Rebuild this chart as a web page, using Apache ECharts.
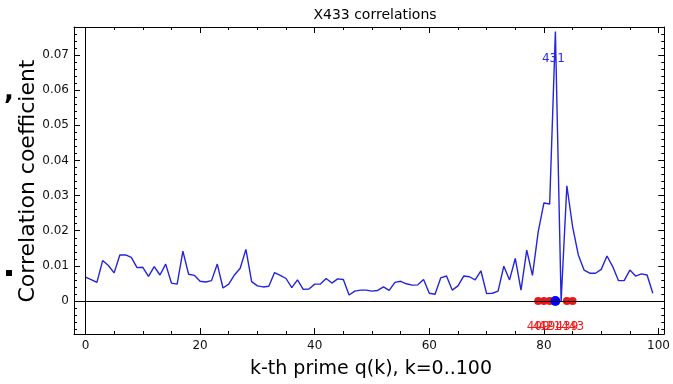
<!DOCTYPE html>
<html>
<head>
<meta charset="utf-8">
<script src="https://cdn.jsdelivr.net/npm/echarts@6/dist/echarts.min.js"></script>
<style>
  html, body { margin: 0; padding: 0; background: #fff; }
  #chart { width: 673px; height: 384px; }
</style>
</head>
<body>
<div id="chart"></div>
<script>
// correlation of X433 with the k-th prime, k = 0..99
const corr = [
  0.0068, 0.0061, 0.0053, 0.0115, 0.0101, 0.0080, 0.0131, 0.0131, 0.0124, 0.0095,
  0.0096, 0.0070, 0.0098, 0.0074, 0.0105, 0.0051, 0.0048, 0.0142, 0.0076, 0.0073,
  0.0056, 0.0054, 0.0058, 0.0105, 0.0037, 0.0048, 0.0074, 0.0093, 0.0147, 0.0055,
  0.0043, 0.0040, 0.0042, 0.0081, 0.0073, 0.0064, 0.0038, 0.0060, 0.0033, 0.0034,
  0.0048, 0.0048, 0.0064, 0.0051, 0.0063, 0.0061, 0.0017, 0.0028, 0.0031, 0.0031,
  0.0028, 0.0030, 0.0040, 0.0030, 0.0053, 0.0056, 0.0049, 0.0045, 0.0046, 0.0061,
  0.0022, 0.0019, 0.0066, 0.0071, 0.0031, 0.0043, 0.0071, 0.0069, 0.0060, 0.0086,
  0.0021, 0.0022, 0.0028, 0.0099, 0.0060, 0.0121, 0.0031, 0.0145, 0.0073, 0.0197,
  0.0279, 0.0276, 0.0767, 0.0000, 0.0328, 0.0212, 0.0131, 0.0088, 0.0079, 0.0079,
  0.0090, 0.0128, 0.0098, 0.0058, 0.0058, 0.0088, 0.0071, 0.0077, 0.0074, 0.0022
];

// neighbouring primes marked on the zero line
const nearK = [79, 80, 81, 84, 85];
const nearPrimes = ['409', '419', '421', '439', '443'];
const bestK = 82;
const bestPrime = '431';
const bestLabelY = 0.069;
const nearLabelY = -0.0074;

// ticks
const xMajor = [0, 20, 40, 60, 80, 100];
const xMinor = [0, 5, 10, 15, 20, 25, 30, 35, 40, 45, 50, 55, 60, 65, 70, 75, 80, 85, 90, 95, 100];
const yMajor = [0, 0.01, 0.02, 0.03, 0.04, 0.05, 0.06, 0.07];
const yMinor = [-0.008, -0.006, -0.004, -0.002, 0, 0.002, 0.004, 0.006, 0.008, 0.01, 0.012, 0.014,
  0.016, 0.018, 0.02, 0.022, 0.024, 0.026, 0.028, 0.03, 0.032, 0.034, 0.036, 0.038, 0.04, 0.042,
  0.044, 0.046, 0.048, 0.05, 0.052, 0.054, 0.056, 0.058, 0.06, 0.062, 0.064, 0.066, 0.068, 0.07,
  0.072, 0.074, 0.076];

const FONT = 'DejaVu Sans';
const X_MIN = -2, X_MAX = 101, Y_MIN = -0.0094, Y_MAX = 0.078;

const chart = echarts.init(document.getElementById('chart'));

function xAx(position, ticks, len, withLabels, showLine) {
  return {
    type: 'value', position, min: X_MIN, max: X_MAX,
    axisLine: { show: showLine, onZero: false, lineStyle: { color: '#000', width: 1 } },
    axisTick: { show: true, inside: true, length: len, customValues: ticks, lineStyle: { color: '#000' } },
    axisLabel: withLabels
      ? { show: true, customValues: xMajor, color: '#111', fontSize: 12, fontFamily: FONT, margin: 6 }
      : { show: false },
    splitLine: { show: false }
  };
}

function yAx(position, ticks, len, withLabels, showLine) {
  return {
    type: 'value', position, min: Y_MIN, max: Y_MAX,
    axisLine: { show: showLine, onZero: false, lineStyle: { color: '#000', width: 1 } },
    axisTick: { show: true, inside: true, length: len, customValues: ticks, lineStyle: { color: '#000' } },
    axisLabel: withLabels
      ? {
          show: true, customValues: yMajor, color: '#111', fontSize: 12, fontFamily: FONT, margin: 5,
          formatter: v => (Math.abs(v) < 1e-9 ? '0' : v.toFixed(2))
        }
      : { show: false },
    splitLine: { show: false }
  };
}

const option = {
  animation: false,
  backgroundColor: '#fff',
  title: {
    text: 'X433 correlations',
    left: 370, top: 3, textAlign: 'center',
    textStyle: { fontFamily: FONT, fontSize: 14, fontWeight: 'normal', color: '#000' }
  },
  grid: { left: 74, right: 7, top: 27, bottom: 50 },
  xAxis: [
    xAx('bottom', xMajor, 6, true, true),
    xAx('top', xMajor, 6, false, true),
    xAx('bottom', xMinor, 3, false, false),
    xAx('top', xMinor, 3, false, false)
  ],
  yAxis: [
    yAx('left', yMajor, 6, true, true),
    yAx('right', yMajor, 6, false, true),
    yAx('left', yMinor, 3, false, false),
    yAx('right', yMinor, 3, false, false)
  ],
  graphic: [
    {
      type: 'text', x: 28, y: 181, rotation: Math.PI / 2,
      style: {
        text: 'Correlation coefficient', fontFamily: FONT, fontSize: 22,
        fill: '#000', align: 'center', verticalAlign: 'middle'
      }
    },
    {
      type: 'text', x: 371, y: 369,
      style: {
        text: 'k-th prime q(k), k=0..100', fontFamily: FONT, fontSize: 19,
        fill: '#000', align: 'center', verticalAlign: 'middle'
      }
    },
    {
      type: 'text', x: 9, y: 92,
      style: { text: ',', fontFamily: FONT, fontSize: 26, fontWeight: 'bold', fill: '#000', align: 'center', verticalAlign: 'middle' }
    },
    { type: 'rect', shape: { x: 6, y: 270, width: 6, height: 6 }, style: { fill: '#000' } }
  ],
  series: [
    {
      type: 'line',
      data: corr.map((v, k) => [k, v]),
      showSymbol: false,
      lineStyle: { color: '#2424dc', width: 1.4 },
      z: 2,
      markLine: {
        silent: true, symbol: 'none', animation: false,
        label: { show: false },
        lineStyle: { color: '#000', width: 1, type: 'solid' },
        data: [{ yAxis: 0 }, { xAxis: 0 }]
      }
    },
    {
      type: 'scatter',
      data: nearK.map(k => [k, 0]),
      symbolSize: 8,
      itemStyle: { color: '#e81818', opacity: 1 },
      z: 3
    },
    {
      type: 'scatter',
      data: [[bestK, 0]],
      symbolSize: 10,
      itemStyle: { color: '#0000ff', opacity: 1 },
      z: 4
    },
    {
      type: 'scatter',
      data: nearK.map((k, i) => ({ value: [k, nearLabelY], name: nearPrimes[i] })),
      symbolSize: 0,
      itemStyle: { opacity: 1 },
      label: {
        show: true, position: 'inside', formatter: p => p.name,
        color: '#f01c1c', fontSize: 12, fontFamily: FONT
      },
      z: 5
    },
    {
      type: 'scatter',
      data: [{ value: [bestK, bestLabelY], name: bestPrime }],
      symbolSize: 0,
      itemStyle: { opacity: 1 },
      label: {
        show: true, position: 'inside', offset: [-2, 0], formatter: p => p.name,
        color: '#2a2ae8', fontSize: 12, fontFamily: FONT
      },
      z: 5
    }
  ]
};

chart.setOption(option);
</script>
</body>
</html>
